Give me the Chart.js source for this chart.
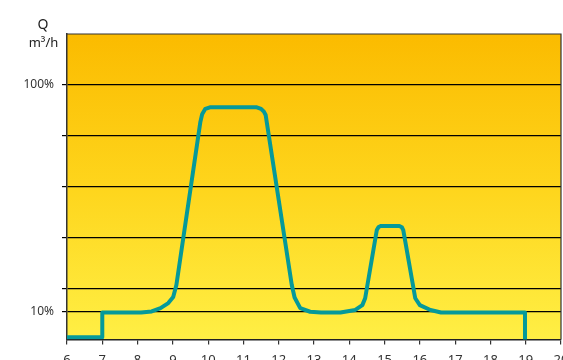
<!DOCTYPE html>
<html>
<head>
<meta charset="utf-8">
<script src="https://cdn.jsdelivr.net/npm/chart.js@4"></script>
<style>
  html, body { margin: 0; padding: 0; background: #fff; overflow: hidden; }
  #wrap { width: 563px; height: 360px; overflow: hidden; }
</style>
</head>
<body>
<div id="wrap"><canvas id="flow" width="563" height="372"></canvas></div>
<script>
// hours of the day (x) and flow level (y, 100 = the 100% line)
const hours = [6, 7, 7, 8.1, 8.4, 8.65, 8.87, 9.01, 9.1, 9.78, 9.83, 9.92, 10.05, 11.38, 11.5, 11.58, 11.63,
    12.37, 12.45, 12.61, 12.89, 13.2, 13.75, 14.17, 14.37, 14.45, 14.78, 14.83, 14.9, 15.42, 15.49, 15.53,
    15.87, 16.0, 16.3, 16.6, 18.98, 18.98]
const flow = [0.9, 0.9, 10.6, 10.6, 11.0, 12.3, 14.3, 16.7, 21.4, 85.5, 88.5, 90.6, 91.2, 91.2, 90.6, 89.5, 88.2,
    21.4, 16.5, 12.3, 10.9, 10.6, 10.6, 11.6, 13.5, 16.2, 43, 44.2, 44.6, 44.6, 44.1, 43,
    16.2, 13.5, 11.6, 10.6, 10.6, 0]
const xTicks = [6, 7, 8, 9, 10, 11, 12, 13, 14, 15, 16, 17, 18, 19, 20]
const yTicks = [10.8, 20, 40, 60, 80, 100]
const yTickLabels = ['10%', '', '', '', '', '100%']

const points = hours.map((h, i) => ({x: h, y: flow[i]}))

const plotBackground = {
    id: 'plotBackground',
    beforeDraw(chart){
        const {ctx, chartArea: a} = chart
        const g = ctx.createLinearGradient(0, a.top, 0, a.bottom)
        g.addColorStop(0, '#FBBB00')
        g.addColorStop(0.5, '#FED51C')
        g.addColorStop(1, '#FFEF45')
        ctx.save()
        ctx.fillStyle = g
        ctx.fillRect(a.left, a.top, a.right - a.left, a.bottom - a.top)
        ctx.restore()
    },
    afterDraw(chart){
        const {ctx, chartArea: a} = chart
        ctx.save()
        // frame on top and right
        ctx.strokeStyle = '#333'
        ctx.lineWidth = 1.2
        ctx.beginPath()
        ctx.moveTo(a.left, a.top)
        ctx.lineTo(a.right, a.top)
        ctx.lineTo(a.right, a.bottom)
        ctx.stroke()
        // axis unit
        ctx.fillStyle = '#222'
        ctx.textAlign = 'center'
        ctx.font = '14px "Noto Sans"'
        ctx.fillText('Q', 43, 29)
        ctx.font = '13px "Noto Sans"'
        ctx.fillText('m³/h', 43.5, 47)
        ctx.restore()
    }
}

new Chart(document.getElementById('flow'), {
    type: 'line',
    data: {
        datasets: [{
            data: points,
            borderColor: '#05999A',
            borderWidth: 4,
            borderJoinStyle: 'round',
            borderCapStyle: 'butt',
            tension: 0,
            pointRadius: 0,
            fill: false,
        }]
    },
    options: {
        responsive: false,
        animation: false,
        layout: {padding: {top: 34, right: 2, left: 0, bottom: 0}},
        plugins: {legend: {display: false}, tooltip: {enabled: false}},
        scales: {
            x: {
                type: 'linear',
                min: 6,
                max: 20,
                afterBuildTicks: (scale) => { scale.ticks = xTicks.map(v => ({value: v})) },
                afterFit: (scale) => {
                    scale.height = 32.5
                    scale.paddingLeft = 0
                    scale.paddingRight = 0
                },
                grid: {drawOnChartArea: false, drawTicks: true, tickLength: 5, color: '#333', lineWidth: 1.2},
                border: {color: '#222', width: 1.5},
                ticks: {color: '#333', font: {family: 'Noto Sans', size: 13}, padding: 8, maxRotation: 0, autoSkip: false},
            },
            y: {
                min: 0,
                max: 120,
                afterBuildTicks: (scale) => { scale.ticks = yTicks.map(v => ({value: v})) },
                afterFit: (scale) => {
                    scale.width = 67
                    scale.paddingTop = 0
                    scale.paddingBottom = 0
                },
                grid: {color: '#000', lineWidth: 1.2, tickLength: 5},
                border: {color: '#333', width: 1.5},
                ticks: {
                    color: '#333',
                    font: {family: 'Noto Sans', size: 12},
                    padding: 8,
                    autoSkip: false,
                    callback: (v) => yTickLabels[yTicks.indexOf(v)] ?? '',
                },
            },
        },
    },
    plugins: [plotBackground],
})
</script>
</body>
</html>
